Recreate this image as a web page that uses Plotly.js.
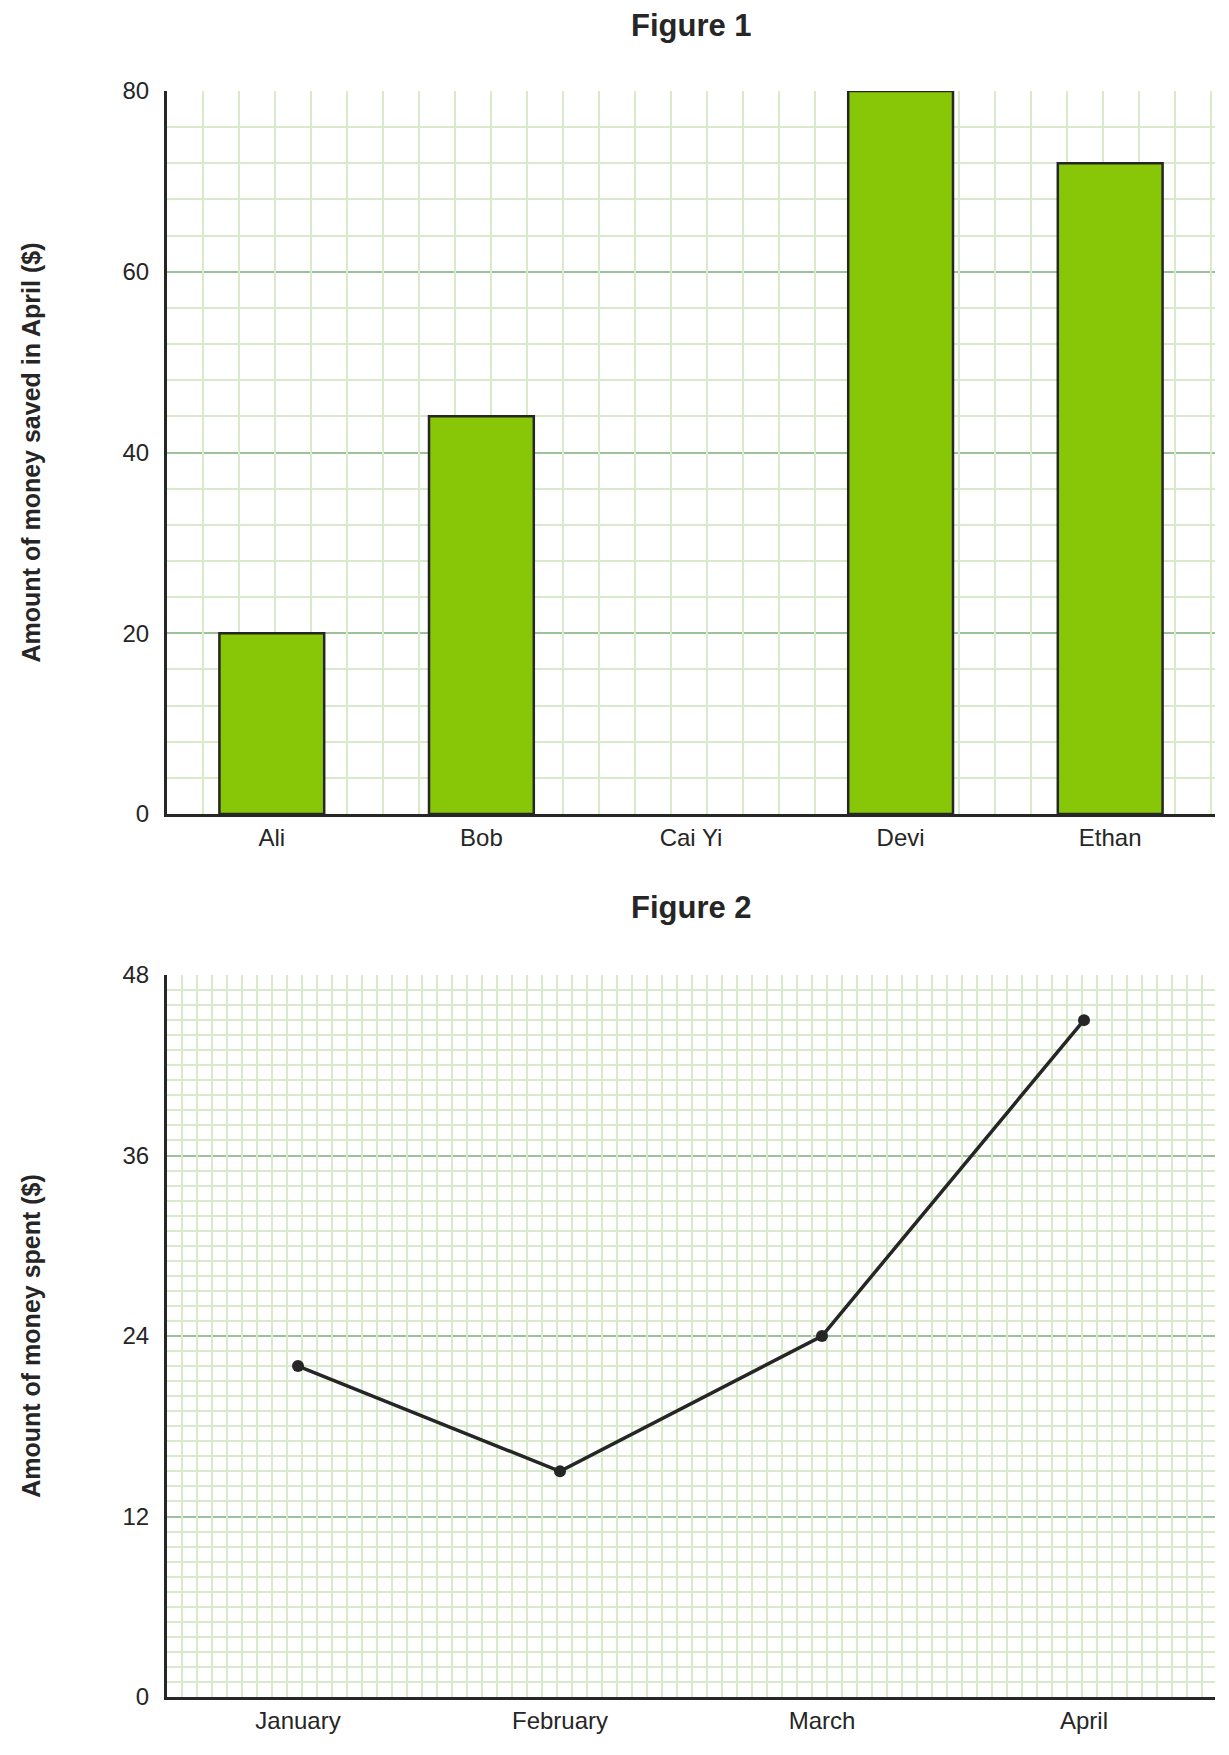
<!DOCTYPE html>
<html><head><meta charset="utf-8">
<script src="https://cdn.plot.ly/plotly-3.0.1.min.js"></script>
<style>body{margin:0}#c{width:1229px;height:1755px}</style>
</head><body><div id="c"></div>
<script>
const names = ["Ali","Bob","Cai Yi","Devi","Ethan"];
const saved = [20,44,0,80,72];
const months = ["January","February","March","April"];
const spent = [22,15,24,45];

const F = "Liberation Sans, Arial, sans-serif";
const dark = "#262626";
const minorC = "#d9e9cc", majorC = "#9cc29b";
const xd = [167/1229, 1215/1229];
const d1 = [1-814/1755, 1-91/1755];
const d2 = [1-1697/1755, 1-975/1755];

const traces = [
  {type:"scatter", mode:"markers", x:[0], y:[0], xaxis:"x3", yaxis:"y", marker:{opacity:0}, hoverinfo:"skip"},
  {type:"scatter", mode:"markers", x:[0], y:[0], xaxis:"x4", yaxis:"y2", marker:{opacity:0}, hoverinfo:"skip"},
  {type:"bar", x:names, y:saved, xaxis:"x", yaxis:"y", width:0.5,
   marker:{color:"#88c708", line:{color:dark, width:saved.map(v => v > 0 ? 2.5 : 0)}}, hoverinfo:"skip"},
  {type:"scatter", mode:"lines+markers", x:months, y:spent, xaxis:"x2", yaxis:"y2",
   line:{color:dark, width:3.5}, marker:{color:dark, size:12}, hoverinfo:"skip"}
];
const tickf = {family:F, size:24, color:dark};
const ytf = {family:F, size:25, color:dark, weight:"bold"};
const layout = {
  width:1229, height:1755, margin:{l:0,r:0,t:0,b:0}, showlegend:false,
  paper_bgcolor:"white", plot_bgcolor:"white",
  xaxis:{domain:xd, anchor:"y", type:"category", range:[-0.5,4.5], showgrid:false, showline:true, linecolor:dark, linewidth:3,
    ticks:"", tickfont:tickf, zeroline:false},
  yaxis:{domain:d1, anchor:"x", range:[0,80], dtick:20, showgrid:true, gridcolor:majorC, gridwidth:2,
    minor:{dtick:4, showgrid:true, gridcolor:minorC, gridwidth:2}, showline:true, linecolor:dark, linewidth:3,
    ticks:"", tickfont:tickf, ticklabelstandoff:10, zeroline:false,
    title:{text:"<b>Amount of money saved in April ($)</b>", font:ytf, standoff:75}},
  xaxis3:{domain:xd, overlaying:"x", anchor:"y", range:[0,1048/36], dtick:1, showgrid:true, gridcolor:minorC, gridwidth:2,
    showticklabels:false, ticks:"", zeroline:false, showline:false},
  xaxis2:{domain:xd, anchor:"y2", type:"category", range:[-0.5,3.5], showgrid:false, showline:true, linecolor:dark, linewidth:3,
    ticks:"", tickfont:tickf, zeroline:false},
  yaxis2:{domain:d2, anchor:"x2", range:[0,48], dtick:12, showgrid:true, gridcolor:majorC, gridwidth:2,
    minor:{dtick:1, showgrid:true, gridcolor:minorC, gridwidth:2}, showline:true, linecolor:dark, linewidth:3,
    ticks:"", tickfont:tickf, ticklabelstandoff:10, zeroline:false,
    title:{text:"<b>Amount of money spent ($)</b>", font:ytf, standoff:75}},
  xaxis4:{domain:xd, overlaying:"x2", anchor:"y2", range:[0,1048/15], dtick:1, showgrid:true, gridcolor:minorC, gridwidth:2,
    showticklabels:false, ticks:"", zeroline:false, showline:false},
  annotations:[
    {text:"<b>Figure 1</b>", xref:"paper", yref:"paper", x:691/1229, y:1-6/1755, xanchor:"center", yanchor:"top", showarrow:false, font:{family:F,size:31,color:dark}},
    {text:"<b>Figure 2</b>", xref:"paper", yref:"paper", x:691/1229, y:1-888/1755, xanchor:"center", yanchor:"top", showarrow:false, font:{family:F,size:31,color:dark}}
  ]
};
Plotly.newPlot("c", traces, layout, {staticPlot:true});
</script></body></html>
